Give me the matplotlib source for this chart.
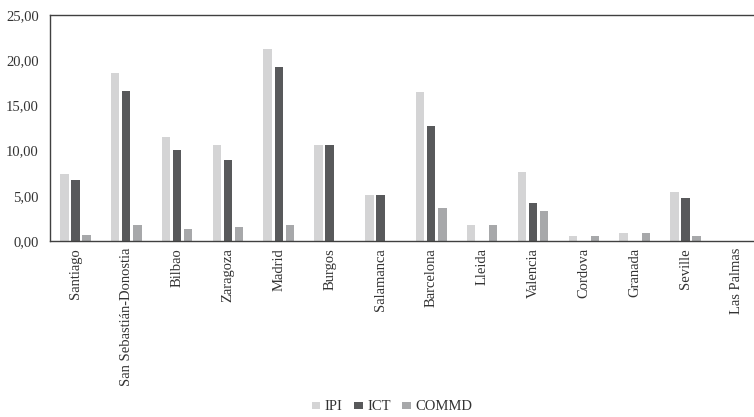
import numpy as np
import matplotlib.pyplot as plt

plt.rcParams['font.family'] = ['Liberation Serif', 'DejaVu Serif']

cities = ['Santiago', 'San Sebastián-Donostia', 'Bilbao', 'Zaragoza', 'Madrid',
          'Burgos', 'Salamanca', 'Barcelona', 'Lleida', 'Valencia', 'Cordova',
          'Granada', 'Seville', 'Las Palmas']
ipi = [7.41, 18.58, 11.50, 10.58, 21.20, 10.58, 5.09, 16.45, 1.73, 7.60, 0.52, 0.88, 5.46, 0]
ict = [6.71, 16.63, 10.07, 9.00, 19.25, 10.58, 5.09, 12.72, 0, 4.24, 0, 0, 4.76, 0]
commd = [0.66, 1.73, 1.36, 1.55, 1.73, 0, 0, 3.69, 1.73, 3.36, 0.52, 0.88, 0.52, 0]

x = np.arange(len(cities))
w = 0.165
step = 0.218

fig = plt.figure(figsize=(7.54, 4.17), dpi=100)
ax = fig.add_axes([0.0663, 0.422, 0.944, 0.542])

ax.bar(x - step, ipi, w, color='#d4d4d5', label='IPI')
ax.bar(x, ict, w, color='#58595b', label='ICT')
ax.bar(x + step, commd, w, color='#a7a8aa', label='COMMD')

ax.set_xlim(-0.5, len(cities) - 0.5)
ax.set_ylim(0, 25)
ax.set_yticks(np.arange(0, 26, 5))
ax.set_yticklabels([f'{v:.2f}'.replace('.', ',') for v in np.arange(0, 26, 5)])
ax.set_xticks(x)
ax.set_xticklabels(cities, rotation=90)
ax.tick_params(axis='both', length=0, labelsize=10.5, colors='#333333', pad=5)
ax.tick_params(axis='y', pad=8)

for side in ['left', 'bottom', 'top', 'right']:
    ax.spines[side].set_color('#404040')
    ax.spines[side].set_linewidth(1.0)

fig.legend(loc='center', bbox_to_anchor=(0.52, 0.024), ncol=3, frameon=False,
           fontsize=10.5, handlelength=0.6, handleheight=0.35, handletextpad=0.3,
           columnspacing=0.8, labelcolor='#333333')

plt.savefig('out.png', dpi=100)
